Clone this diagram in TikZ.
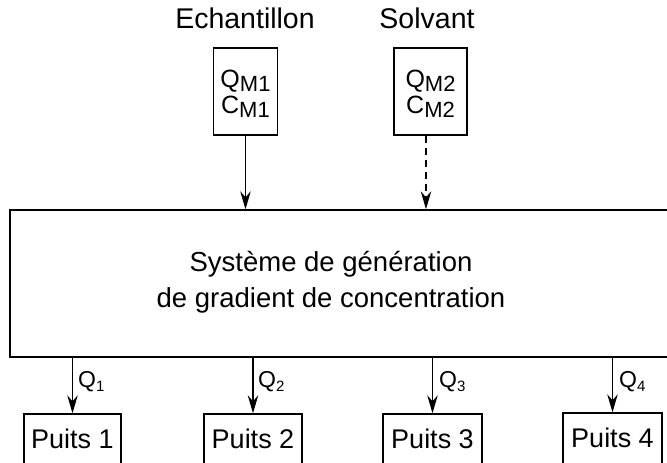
\documentclass[tikz,border=0pt]{standalone}
\usepackage{fontspec}
\setmainfont{Liberation Sans}
\usetikzlibrary{arrows.meta}
\tikzset{
  line/.style={line width=1.4pt},
  arr/.style={line, -{Stealth[length=18pt,width=10.5pt,inset=6pt]}},
  box/.style={draw, line width=1.4pt, inner sep=0pt},
  big/.style={font=\fontsize{27.5}{36}\selectfont, align=center},
  ttl/.style={font=\fontsize{28.5}{30}\selectfont, anchor=base},
  plbl/.style={font=\fontsize{27}{30}\selectfont, anchor=base},
  qlbl/.style={font=\fontsize{23}{24}\selectfont, anchor=base west, inner sep=0pt},
  mlbl/.style={font=\fontsize{25}{26}\selectfont, anchor=base, inner sep=0pt}
}
\newcommand{\qsub}[1]{Q\raisebox{-4pt}{\fontsize{15}{15}\selectfont #1}}
\newcommand{\msub}[2]{#1\raisebox{-4.5pt}{\fontsize{22}{22}\selectfont #2}}
\begin{document}
\begin{tikzpicture}[x=1pt,y=-1pt]
\useasboundingbox (0,0) rectangle (667,463);
\clip (0,0) rectangle (667,463);
% main system box
\node[box, minimum width=680pt, minimum height=147pt] (sys) at (350,283.5) {};
\node[big] (systxt) at (331,282) {Système de génération\\de gradient de concentration};
% top boxes
\node[box, minimum width=64pt, minimum height=87pt] (m1) at (245.5,91.5) {};
\node[box, minimum width=73pt, minimum height=87pt] (m2) at (430.5,91.5) {};
\node[mlbl] (q1t) at (245.5,87) {\msub{Q}{M1}};
\node[mlbl] (c1t) at (245.5,113) {\msub{C}{M1}};
\node[mlbl] (q2t) at (430.5,87) {\msub{Q}{M2}};
\node[mlbl] (c2t) at (430.5,113) {\msub{C}{M2}};
\node[ttl] (ech) at (245,28) {Echantillon};
\node[ttl] (solv) at (427,28) {Solvant};
% input arrows
\draw[arr] (m1.south) -- (m1.south |- sys.north);
\draw[arr, dash pattern=on 7pt off 5pt] ([xshift=-4.5pt]m2.south) -- ([xshift=-4.5pt]m2.south |- sys.north);
% wells
\node[box, minimum width=97pt, minimum height=70pt] (p1) at (72.5,449) {};
\node[box, minimum width=98pt, minimum height=70pt] (p2) at (253,449) {};
\node[box, minimum width=99pt, minimum height=70pt] (p3) at (432.5,449) {};
\node[box, minimum width=99pt, minimum height=70pt] (p4) at (612.5,448) {};
\node[plbl] (t1) at (72.5,448) {Puits 1};
\node[plbl] (t2) at (253,448) {Puits 2};
\node[plbl] (t3) at (432.5,448) {Puits 3};
\node[plbl] (t4) at (612.5,447) {Puits 4};
% output arrows
\draw[arr] (p1.north |- sys.south) -- (p1.north);
\draw[arr] (p2.north |- sys.south) -- (p2.north);
\draw[arr] (p3.north |- sys.south) -- (p3.north);
\draw[arr] (p4.north |- sys.south) -- (p4.north);
\node[qlbl] (l1) at (78,387) {\qsub{1}};
\node[qlbl] (l2) at (258,387) {\qsub{2}};
\node[qlbl] (l3) at (439,387) {\qsub{3}};
\node[qlbl] (l4) at (619,387) {\qsub{4}};
\end{tikzpicture}
\end{document}
